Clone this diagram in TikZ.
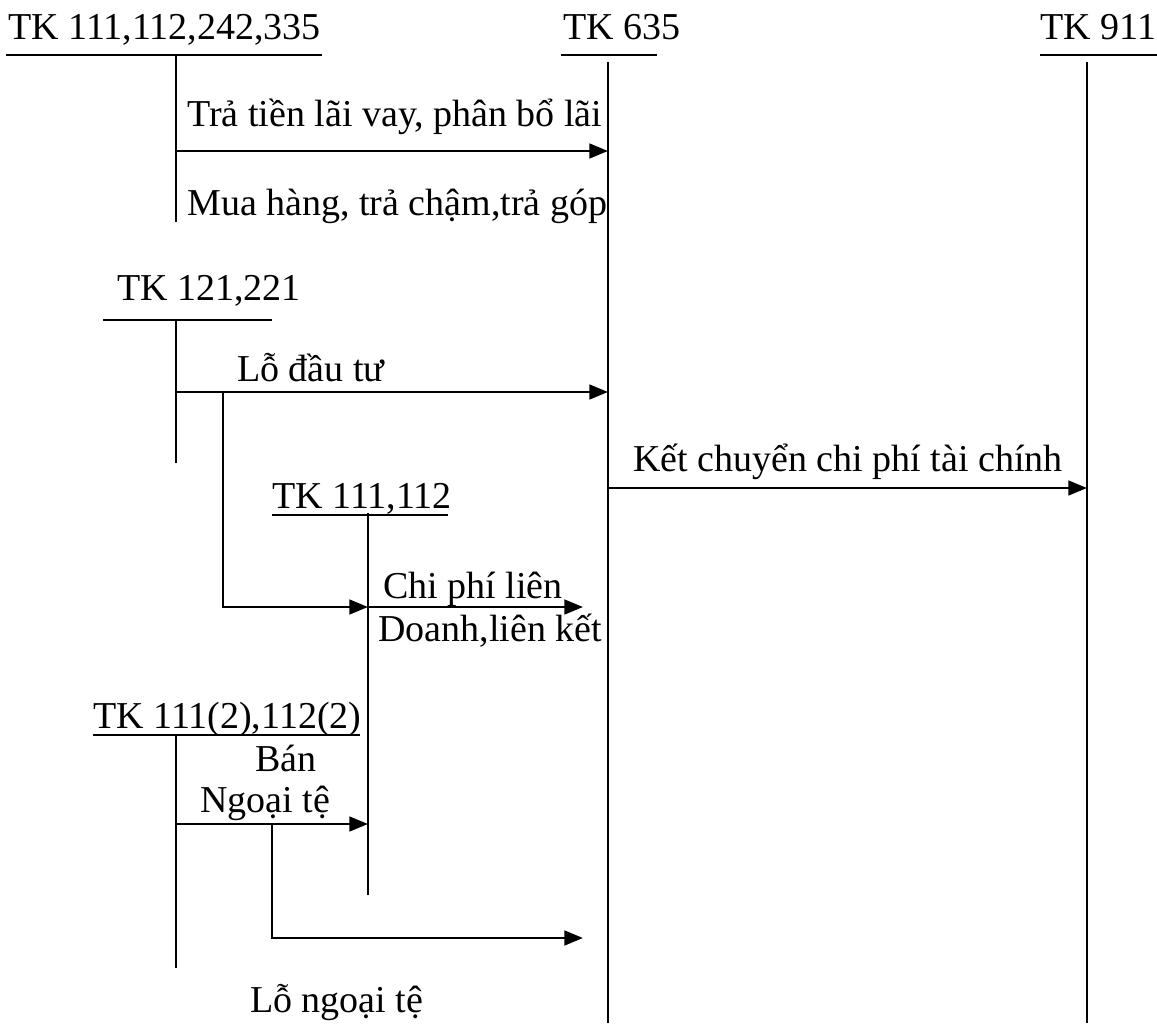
\documentclass[tikz,border=0pt]{standalone}
\usepackage{fontspec}
\setmainfont{Liberation Serif}
\usetikzlibrary{arrows.meta}
\begin{document}
\begin{tikzpicture}[x=0.75pt,y=-0.75pt,
  lbl/.style={font=\fontsize{28.5}{34}\selectfont, inner sep=0pt, anchor=base west},
  clbl/.style={font=\fontsize{28.5}{34}\selectfont, inner sep=0pt, anchor=base},
  acct/.style={line width=1.2pt},
  rulel/.style={line width=1.4pt},
  flow/.style={line width=2pt, -{Triangle[length=14pt,width=11pt]}},
  branch/.style={line width=2pt}]
\useasboundingbox (0,0) rectangle (1157,1035);
% headers
\node[lbl] (h1) at (8,39) {TK 111,112,242,335};
\node[lbl] (h2) at (563,39) {TK 635};
\node[lbl] (h3) at (1040,39) {TK 911};
\node[lbl] (h4) at (117,300) {TK 121,221};
\node[lbl] (h5) at (272,508) {TK 111,112};
\node[lbl] (h6) at (93,728) {TK 111(2),112(2)};
% underlines
\draw[rulel] (6,55) -- (322,55);
\draw[rulel] (561,55) -- (657,55);
\draw[rulel] (1040,55) -- (1157,55);
\draw[rulel] (103,320) -- (272,320);
\draw[rulel] (272,515) -- (448,515);
\draw[rulel] (93,735) -- (360,735);
% account verticals
\coordinate (a1t) at (176,55);  \coordinate (a1b) at (176,222);
\coordinate (a2t) at (608,62);  \coordinate (a2b) at (608,1023);
\coordinate (a3t) at (1087,62); \coordinate (a3b) at (1087,1023);
\coordinate (a4t) at (176,320); \coordinate (a4b) at (176,463);
\coordinate (a5t) at (368,513); \coordinate (a5b) at (368,895);
\coordinate (a6t) at (176,735); \coordinate (a6b) at (176,968);
\foreach \t/\b in {a1t/a1b,a2t/a2b,a3t/a3b,a4t/a4b,a5t/a5b,a6t/a6b}
  \draw[acct] (\t) -- (\b);
% flows
\coordinate (f1s) at (176,151); \coordinate (f1e) at (608,151);
\draw[flow] (f1s) -- (f1e);
\node[lbl] (l1) at (187,126) {Trả tiền lãi vay, phân bổ lãi};
\node[lbl] (l2) at (187,215) {Mua hàng, trả chậm,trả góp};
\coordinate (f2s) at (176,392); \coordinate (f2e) at (608,392);
\draw[flow] (f2s) -- (f2e);
\node[lbl] (l3) at (237,381) {Lỗ đầu tư};
\coordinate (f3s) at (608,488); \coordinate (f3e) at (1087,488);
\draw[flow] (f3s) -- (f3e);
\node[lbl] (l4) at (633,471) {Kết chuyển chi phí tài chính};
\coordinate (b1) at (223,392); \coordinate (b1e) at (368,607);
\draw[flow] (b1) |- (b1e);
\coordinate (f4s) at (368,607); \coordinate (f4e) at (583,607);
\draw[flow] (f4s) -- (f4e);
\node[lbl] (l5) at (383,598) {Chi phí liên};
\node[lbl] (l6) at (378,641) {Doanh,liên kết};
\node[clbl] (l7) at (286,771) {Bán};
\node[lbl] (l8) at (200,812) {Ngoại tệ};
\coordinate (f5s) at (176,824); \coordinate (f5e) at (368,824);
\draw[flow] (f5s) -- (f5e);
\coordinate (b2) at (272,824); \coordinate (b2e) at (583,938);
\draw[flow] (b2) |- (b2e);
\node[lbl] (l9) at (250,1012) {Lỗ ngoại tệ};
\end{tikzpicture}
\end{document}
